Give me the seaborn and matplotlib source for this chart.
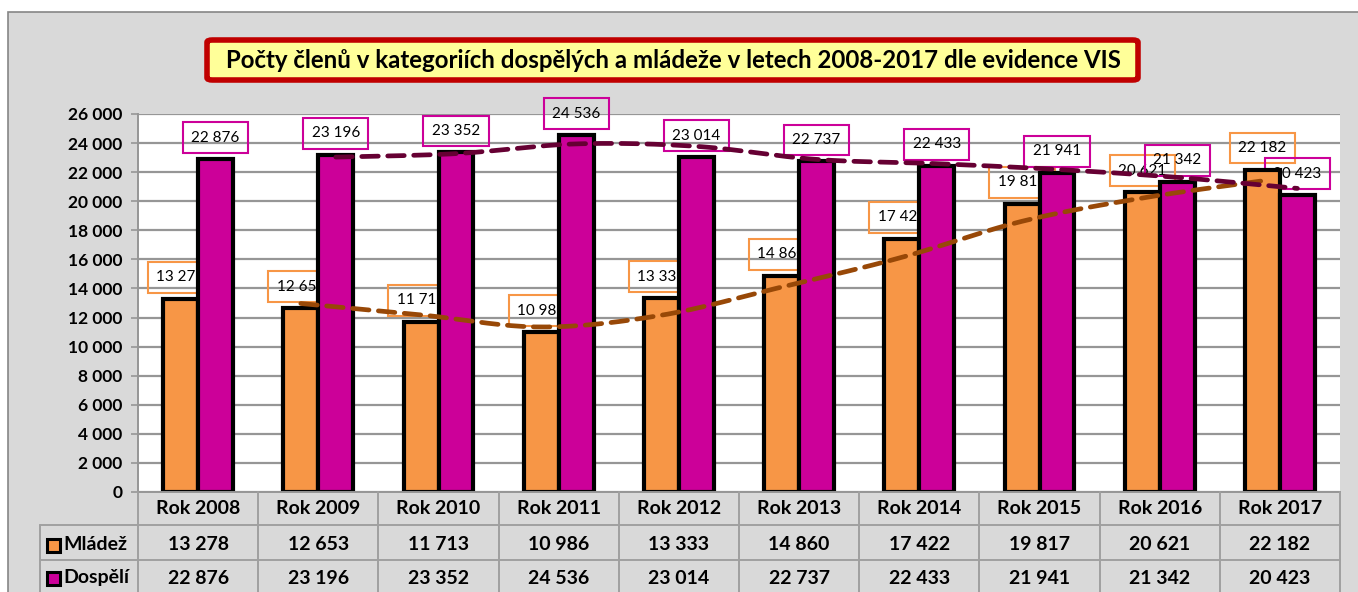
import numpy as np
import pandas as pd
import matplotlib
matplotlib.use("Agg")
import matplotlib.pyplot as plt
from matplotlib.patches import Rectangle, FancyBboxPatch
import seaborn as sns

# ---------------- data ----------------
years = ["Rok 2008", "Rok 2009", "Rok 2010", "Rok 2011", "Rok 2012",
         "Rok 2013", "Rok 2014", "Rok 2015", "Rok 2016", "Rok 2017"]
mladez = [13278, 12653, 11713, 10986, 13333, 14860, 17422, 19817, 20621, 22182]
dospeli = [22876, 23196, 23352, 24536, 23014, 22737, 22433, 21941, 21342, 20423]
series_names = ["Mládež", "Dospělí"]
title = "Počty členů v kategoriích dospělých a mládeže v letech 2008-2017 dle evidence VIS"
y_ticks = list(range(0, 26001, 2000))

# ---------------- style ----------------
sns.set_theme(style="white")
plt.rcParams["font.family"] = ["Lato", "DejaVu Sans"]

c_orange = "#f79646"
c_magenta = "#cc0099"
c_trend_m = "#984807"
c_trend_d = "#660033"
c_grid = "#969696"
c_bg = "#d9d9d9"

W, H = 1358, 592
fig = plt.figure(figsize=(W / 100, H / 100), dpi=100, facecolor="white")

def fx(px):
    return px / W

def fy(py):
    return 1 - py / H

# outer chart area
fig.patches.append(Rectangle((fx(8), -0.2), 1.2, fy(12) + 0.2, transform=fig.transFigure,
                             facecolor=c_bg, edgecolor="#868686", linewidth=1.2, zorder=-10))

# plot area
L, R, T, B = 138, 1340, 114, 492
ax = fig.add_axes([fx(L), fy(B), fx(R) - fx(L), fy(T) - fy(B)])
ax.set_facecolor("white")

df = pd.DataFrame({
    "year": years * 2,
    "value": mladez + dospeli,
    "series": [series_names[0]] * len(years) + [series_names[1]] * len(years),
})
sns.barplot(data=df, x="year", y="value", hue="series", order=years,
            hue_order=series_names, palette=[c_orange, c_magenta],
            width=0.582, gap=0, edgecolor="black", linewidth=3,
            saturation=1, legend=False, ax=ax, zorder=2)
for p in ax.patches:
    p.set_zorder(2)

ax.set_xlim(-0.5, len(years) - 0.5)
ax.set_ylim(0, 26000)
ax.set_yticks(y_ticks)
ax.set_yticklabels([f"{v:,}".replace(",", " ") for v in y_ticks],
                   fontsize=12.5, fontweight="bold", color="black")
ax.tick_params(axis="y", which="major", direction="out", length=5, width=1.2,
               color=c_grid, pad=6, left=True)
ax.set_xticks([])
ax.set_xlabel("")
ax.set_ylabel("")
ax.set_axisbelow(True)
ax.yaxis.grid(True, color=c_grid, linewidth=1.6)
for s in ["top", "right"]:
    ax.spines[s].set_visible(False)
ax.spines["left"].set_color(c_grid)
ax.spines["left"].set_linewidth(1.4)
ax.spines["bottom"].set_color(c_grid)
ax.spines["bottom"].set_linewidth(1.4)

off = 0.582 / 4
x_m = np.arange(len(years)) - off
x_d = np.arange(len(years)) + off

# data labels (below the bars in drawing order)
for xs, vals, col in [(x_m, mladez, c_orange), (x_d, dospeli, c_magenta)]:
    for x, v in zip(xs, vals):
        ax.annotate(f"{v:,}".replace(",", " "), (x, v), xytext=(0, 15.5),
                    textcoords="offset points", ha="center", va="center",
                    fontsize=11, color="black", zorder=1.5,
                    bbox=dict(boxstyle="square,pad=0.55", fc="none", ec=col, lw=1.5),
                    annotation_clip=False)

# 2-period moving-average trendlines, smoothed
def catmull_rom(xs, ys, n=20):
    P = np.column_stack([xs, ys])
    P = np.vstack([P[0], P, P[-1]])
    out = []
    for i in range(1, len(P) - 2):
        p0, p1, p2, p3 = P[i - 1], P[i], P[i + 1], P[i + 2]
        t = np.linspace(0, 1, n, endpoint=False)[:, None]
        seg = 0.5 * ((2 * p1) + (-p0 + p2) * t + (2 * p0 - 5 * p1 + 4 * p2 - p3) * t ** 2
                     + (-p0 + 3 * p1 - 3 * p2 + p3) * t ** 3)
        out.append(seg)
    out.append(P[-2][None, :])
    out = np.vstack(out)
    return out[:, 0], out[:, 1]

for xs, vals, col in [(x_m, mladez, c_trend_m), (x_d, dospeli, c_trend_d)]:
    ma = pd.Series(vals).rolling(2).mean().values[1:]
    sx, sy = catmull_rom(xs[1:], ma)
    ax.plot(sx, sy, color=col, linewidth=3.4, linestyle=(0, (3.5, 2.0)),
            dash_capstyle="round", zorder=3, clip_on=False)

# ---------------- data table ----------------
cat_w = (R - L) / len(years)
rows_y = [492, 525, 560, 595]
tab_col = "#a0a0a0"
def line(x0, y0, x1, y1):
    fig.add_artist(plt.Line2D([fx(x0), fx(x1)], [fy(y0), fy(y1)], color=tab_col,
                              linewidth=1.4, transform=fig.transFigure, zorder=5))

for k in range(1, len(years) + 1):
    line(L + k * cat_w, 492, L + k * cat_w, 600)
line(L, 492, L, 600)
line(40, 525, R, 525)
line(40, 560, R, 560)
line(40, 525, 40, 600)

tfs = 14
row_c = [509, 545, 578]
for i, yr in enumerate(years):
    cx = L + (i + 0.5) * cat_w
    fig.text(fx(cx), fy(row_c[0]), yr, ha="center", va="center",
             fontsize=tfs, fontweight="bold", color="black")
    fig.text(fx(cx), fy(row_c[1]), f"{mladez[i]:,}".replace(",", " "),
             ha="center", va="center", fontsize=tfs, fontweight="bold", color="black")
    fig.text(fx(cx), fy(row_c[2]), f"{dospeli[i]:,}".replace(",", " "),
             ha="center", va="center", fontsize=tfs, fontweight="bold", color="black")

for name, col, cy in [(series_names[0], c_orange, row_c[1]),
                      (series_names[1], c_magenta, row_c[2])]:
    fig.patches.append(Rectangle((fx(47), fy(cy + 6.5)), fx(13), (13 / H),
                                 transform=fig.transFigure, facecolor=col,
                                 edgecolor="black", linewidth=2.2, zorder=6))
    fig.text(fx(63), fy(cy), name, ha="left", va="center", fontsize=tfs,
             fontweight="bold", color="black")

# ---------------- title ----------------
fig.patches.append(FancyBboxPatch((fx(207), fy(80)), fx(1138) - fx(207), fy(40) - fy(80),
                                  boxstyle="round,pad=0,rounding_size=0.004",
                                  transform=fig.transFigure, facecolor="#ffff99",
                                  edgecolor="#c00000", linewidth=4, zorder=6))
fig.text(fx(673), fy(61), title, ha="center", va="center", fontsize=17.3,
         fontweight="bold", color="black", zorder=7)

fig.savefig("out.png", dpi=100, facecolor="white")
